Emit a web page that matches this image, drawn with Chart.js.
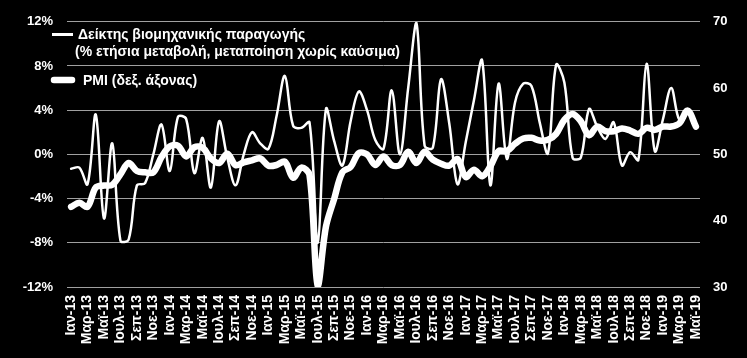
<!DOCTYPE html>
<html>
<head>
<meta charset="utf-8">
<script src="https://cdn.jsdelivr.net/npm/chart.js@4/dist/chart.umd.min.js"></script>
<style>
html,body{margin:0;padding:0;background:#000;}
#wrap{width:747px;height:358px;position:relative;background:#000;}
</style>
</head>
<body>
<div id="wrap"><canvas id="c" width="747" height="358"></canvas></div>
<script>
// Categories (monthly, Jan 2013 - May 2019)
const months = [
 'Ιαν-13','Φεβ-13','Μαρ-13','Απρ-13','Μαϊ-13','Ιουν-13','Ιουλ-13','Αυγ-13','Σεπ-13','Οκτ-13','Νοε-13','Δεκ-13',
 'Ιαν-14','Φεβ-14','Μαρ-14','Απρ-14','Μαϊ-14','Ιουν-14','Ιουλ-14','Αυγ-14','Σεπ-14','Οκτ-14','Νοε-14','Δεκ-14',
 'Ιαν-15','Φεβ-15','Μαρ-15','Απρ-15','Μαϊ-15','Ιουν-15','Ιουλ-15','Αυγ-15','Σεπ-15','Οκτ-15','Νοε-15','Δεκ-15',
 'Ιαν-16','Φεβ-16','Μαρ-16','Απρ-16','Μαϊ-16','Ιουν-16','Ιουλ-16','Αυγ-16','Σεπ-16','Οκτ-16','Νοε-16','Δεκ-16',
 'Ιαν-17','Φεβ-17','Μαρ-17','Απρ-17','Μαϊ-17','Ιουν-17','Ιουλ-17','Αυγ-17','Σεπ-17','Οκτ-17','Νοε-17','Δεκ-17',
 'Ιαν-18','Φεβ-18','Μαρ-18','Απρ-18','Μαϊ-18','Ιουν-18','Ιουλ-18','Αυγ-18','Σεπ-18','Οκτ-18','Νοε-18','Δεκ-18',
 'Ιαν-19','Φεβ-19','Μαρ-19','Απρ-19','Μαϊ-19'
];

// Industrial production index (% y/y, manufacturing excl. fuels) - left axis
const industrial = [
 -1.3,-1.2,-2.7, 3.6,-5.8, 1.0,-7.8,-7.7,-2.8,-2.6, 0.0, 2.7,
 -1.5, 3.4, 3.2,-1.7, 1.5,-3.0, 3.0,-0.3,-2.8, 0.0, 2.0, 1.0,
  0.5, 3.5, 7.1, 2.6, 2.4, 2.9,-8.0, 4.1, 1.2,-1.0, 3.0, 5.7,
  4.0, 1.3, 0.5, 5.8, 0.0, 6.0,11.9, 0.8, 0.6, 6.8, 2.8,-2.7,
  1.1, 4.9, 8.5,-2.8, 6.4,-0.4, 4.7, 6.4, 6.2, 2.9, 0.1, 8.1,
  6.5,-0.3,-0.3, 4.1, 2.5, 1.4, 2.9,-1.0, 0.2,-0.5, 8.2, 0.3,
  3.2, 6.0, 3.1, 3.9, 2.6
];

// Manufacturing PMI - right axis
const pmi = [
 42.1,42.7,42.1,45.0,45.3,45.4,47.0,48.7,47.5,47.3,47.3,49.6,
 51.2,51.3,49.7,51.1,51.0,49.4,48.7,50.1,48.4,48.8,49.1,49.4,
 48.3,48.4,48.9,46.5,48.0,46.9,30.2,39.1,43.3,47.3,48.1,50.2,
 50.0,48.4,49.7,48.4,48.4,50.4,48.7,50.4,49.2,48.6,48.3,49.3,
 46.6,47.7,46.7,48.2,50.5,50.5,51.6,52.4,52.5,52.1,52.2,53.1,
 55.2,56.1,55.0,52.9,54.2,53.5,53.5,53.9,53.6,53.1,54.0,53.7,
 54.2,54.2,54.7,56.6,54.2
];

// Legend texts
const industrialLabel = ['Δείκτης βιομηχανικής παραγωγής', '(% ετήσια μεταβολή, μεταποίηση χωρίς καύσιμα)'];
const pmiLabel = 'PMI (δεξ. άξονας)';

// Axis tick settings
const leftTicks = {min:-12, max:12, step:4};
const rightTicks = {min:30, max:70, step:10};

const FONT = '"Liberation Sans", Arial, sans-serif';

const legendPlugin = {
  id: 'customLegend',
  afterDraw(chart) {
    const ctx = chart.ctx;
    ctx.save();
    ctx.strokeStyle = '#fff';
    ctx.fillStyle = '#fff';
    // entry 1 (thin line)
    ctx.lineWidth = 3;
    ctx.lineCap = 'butt';
    ctx.beginPath(); ctx.moveTo(52, 34.5); ctx.lineTo(73, 34.5); ctx.stroke();
    ctx.font = 'bold 14px ' + FONT;
    ctx.textBaseline = 'middle';
    ctx.textAlign = 'left';
    ctx.fillText(industrialLabel[0], 78, 35);
    ctx.fillText(industrialLabel[1], 75, 52);
    // entry 2 (thick line)
    ctx.lineWidth = 6.5;
    ctx.lineCap = 'round';
    ctx.beginPath(); ctx.moveTo(54, 80); ctx.lineTo(72, 80); ctx.stroke();
    ctx.fillText(pmiLabel, 83, 81);
    ctx.restore();
  }
};

new Chart(document.getElementById('c'), {
  type: 'line',
  data: {
    labels: months,
    datasets: [
      {
        label: industrialLabel.join(' '),
        data: industrial,
        yAxisID: 'y',
        borderColor: '#fff',
        backgroundColor: '#fff',
        borderWidth: 2.5,
        pointRadius: 0,
        tension: 0.35,
        borderJoinStyle: 'round',
        borderCapStyle: 'round',
        fill: false
      },
      {
        label: pmiLabel,
        data: pmi,
        yAxisID: 'y1',
        borderColor: '#fff',
        backgroundColor: '#fff',
        borderWidth: 6.5,
        pointRadius: 0,
        tension: 0.35,
        borderJoinStyle: 'round',
        borderCapStyle: 'round',
        fill: false
      }
    ]
  },
  options: {
    responsive: false,
    animation: false,
    devicePixelRatio: 1,
    layout: {padding: {top: 17, bottom: 0, left: 0, right: 0}},
    plugins: {legend: {display: false}, tooltip: {enabled: false}},
    scales: {
      x: {
        type: 'category',
        offset: true,
        grid: {display: false, drawTicks: false},
        border: {display: false},
        ticks: {
          color: '#fff',
          font: {family: FONT, size: 14, weight: 'bold'},
          autoSkip: false,
          maxRotation: 90,
          minRotation: 90,
          padding: 8,
          callback: function(v, i) { return i % 2 === 0 ? months[i] : ''; }
        },
        afterFit: function(s) { s.height = 71; }
      },
      y: {
        position: 'left',
        min: leftTicks.min, max: leftTicks.max,
        grid: {color: '#a0a0a0', lineWidth: 1, drawTicks: false},
        border: {display: false},
        ticks: {
          stepSize: leftTicks.step,
          color: '#fff',
          padding: 14,
          font: {family: FONT, size: 13, weight: 'bold'},
          callback: v => v + '%'
        },
        afterFit: function(s) { s.width = 67; }
      },
      y1: {
        position: 'right',
        min: rightTicks.min, max: rightTicks.max,
        grid: {display: false, drawTicks: false},
        border: {display: false},
        ticks: {
          stepSize: rightTicks.step,
          color: '#fff',
          padding: 13,
          font: {family: FONT, size: 13, weight: 'bold'}
        },
        afterFit: function(s) { s.width = 47; }
      }
    }
  },
  plugins: [legendPlugin]
});
</script>
</body>
</html>
